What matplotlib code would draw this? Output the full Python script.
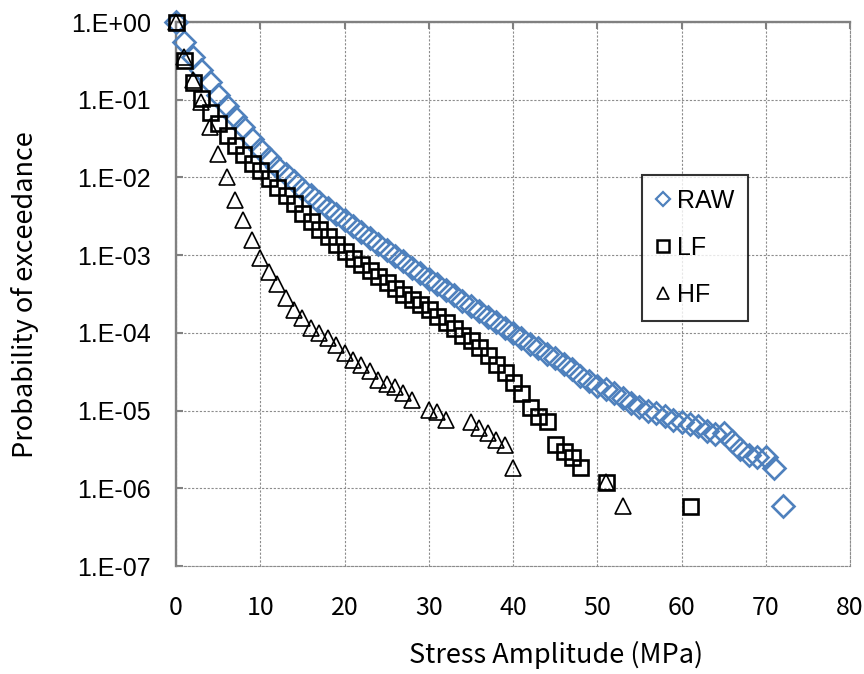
import matplotlib
matplotlib.use("Agg")
import matplotlib.pyplot as plt
from matplotlib.lines import Line2D

# ---------------- data ----------------
raw_x = list(range(0, 73))
raw_p = [1.0, 0.55, 0.355, 0.24, 0.17, 0.115, 0.083, 0.060, 0.044, 0.0316,
         0.0234, 0.0178, 0.0138, 0.011, 0.0089, 0.0072, 0.0059, 0.0049, 0.0041, 0.0034,
         0.0028, 0.0024, 0.0020, 0.00166, 0.00138, 0.00117, 0.00098, 0.00083, 0.00069, 0.00059,
         0.0005, 0.00043, 0.00036, 0.00031, 0.00026, 0.00022, 0.00019, 0.000162, 0.000138, 0.000117,
         0.0001, 8.5e-5, 7.2e-5, 6.3e-5, 5.4e-5, 4.7e-5, 4.0e-5, 3.4e-5, 2.8e-5, 2.4e-5,
         2.1e-5, 1.9e-5, 1.66e-5, 1.45e-5, 1.26e-5, 1.12e-5, 1.0e-5, 9.3e-6, 8.5e-6, 7.6e-6,
         7.1e-6, 6.8e-6, 6.3e-6, 5.5e-6, 5.0e-6, 5.2e-6, 4.0e-6, 3.2e-6, 2.7e-6, 2.5e-6,
         2.5e-6, 1.8e-6, 5.9e-7]

lf_x = list(range(0, 49)) + [51, 61]
lf_p = [1.0, 0.32, 0.17, 0.105, 0.069, 0.050, 0.035, 0.026, 0.020, 0.0155,
        0.0126, 0.0098, 0.0076, 0.0059, 0.0047, 0.0035, 0.00275, 0.0022, 0.00174, 0.00138,
        0.00112, 0.00093, 0.00078, 0.00065, 0.00054, 0.00045, 0.00038, 0.00032, 0.000275, 0.000234,
        0.0002, 0.000166, 0.000138, 0.000115, 9.3e-5, 8.1e-5, 6.6e-5, 5.2e-5, 4.0e-5, 3.1e-5,
        2.3e-5, 1.66e-5, 1.1e-5, 8.5e-6, 7.4e-6, 3.7e-6, 3.0e-6, 2.5e-6, 1.86e-6,
        1.2e-6, 5.9e-7]

hf_x = list(range(0, 29)) + [30, 31, 32, 35, 36, 37, 38, 39, 40, 51, 53]
hf_p = [1.0, 0.355, 0.178, 0.093, 0.045, 0.020, 0.0102, 0.0051, 0.0028, 0.00155,
        0.00091, 0.0006, 0.00042, 0.00028, 0.000195, 0.000155, 0.000117, 0.0001, 8.5e-5, 6.9e-5,
        5.5e-5, 4.5e-5, 3.9e-5, 3.2e-5, 2.45e-5, 2.2e-5, 2.0e-5, 1.7e-5, 1.38e-5,
        1.02e-5, 9.5e-6, 7.6e-6, 7.1e-6, 5.9e-6, 5.1e-6, 4.2e-6, 3.6e-6, 1.8e-6,
        1.2e-6, 5.9e-7]

series_names = ["RAW", "LF", "HF"]
x_ticks = [0, 10, 20, 30, 40, 50, 60, 70, 80]
y_ticks = [1e0, 1e-1, 1e-2, 1e-3, 1e-4, 1e-5, 1e-6, 1e-7]
y_tick_labels = ["1.E+00", "1.E-01", "1.E-02", "1.E-03", "1.E-04", "1.E-05", "1.E-06", "1.E-07"]
x_label = "Stress Amplitude (MPa)"
y_label = "Probability of exceedance"

# ---------------- figure ----------------
W, H, DPI = 864, 674, 100
fig = plt.figure(figsize=(W / DPI, H / DPI), dpi=DPI)
L, R, T, B = 176, 850, 22, 566
ax = fig.add_axes([L / W, 1 - B / H, (R - L) / W, (B - T) / H])

blue = "#4F81BD"
gray = "#808080"
grid_ls = (0, (2.0, 1.5))

ax.set_yscale("log")
ax.set_xlim(0, 80)
ax.set_ylim(1e-7, 1)

ax.grid(True, which="major", color="#8c8c8c", linestyle=grid_ls, linewidth=0.8)
ax.set_axisbelow(True)

ax.plot(raw_x, raw_p, linestyle="none", marker="D", markersize=11.5,
        markerfacecolor="none", markeredgecolor=blue, markeredgewidth=1.9,
        clip_on=False, zorder=3)
ax.plot(lf_x, lf_p, linestyle="none", marker="s", markersize=10.8,
        markerfacecolor="none", markeredgecolor="black", markeredgewidth=1.9,
        clip_on=False, zorder=4)
ax.plot(hf_x, hf_p, linestyle="none", marker="^", markersize=11,
        markerfacecolor="none", markeredgecolor="black", markeredgewidth=1.2,
        clip_on=False, zorder=5)

# spines
for s in ["left", "top"]:
    ax.spines[s].set_color(gray)
    ax.spines[s].set_linewidth(1.7)
for s in ["right", "bottom"]:
    ax.spines[s].set_color("#8c8c8c")
    ax.spines[s].set_linewidth(0.8)
    ax.spines[s].set_linestyle(grid_ls)

ax.set_xticks(x_ticks)
ax.set_xticklabels([str(v) for v in x_ticks])
ax.set_yticks(y_ticks)
ax.set_yticklabels(y_tick_labels)
ax.minorticks_off()

ax.tick_params(axis="x", which="major", bottom=False, top=True, labelbottom=True,
               labeltop=False, direction="in", length=5, width=1.5, color=gray,
               pad=21, labelsize=18, labelcolor="black")
ax.tick_params(axis="y", which="major", left=True, right=False, direction="in",
               length=5, width=1.5, color=gray, pad=18, labelsize=18)
for lab in ax.get_xticklabels():
    lab.set_fontfamily(["Noto Sans CJK JP", "DejaVu Sans"])
for lab in ax.get_yticklabels():
    lab.set_fontfamily(["Liberation Sans", "DejaVu Sans"])

# axis titles
fig.text(556 / W, 1 - 655 / H, x_label, ha="center", va="center", fontsize=19.5,
         family=["Noto Sans CJK JP", "DejaVu Sans"])
fig.text(25 / W, 1 - 295 / H, y_label, ha="center", va="center", rotation=90,
         fontsize=19.5, family=["Noto Sans CJK JP", "DejaVu Sans"])

# legend
handles = [
    Line2D([], [], linestyle="none", marker="D", markersize=7, markerfacecolor="none",
           markeredgecolor=blue, markeredgewidth=1.6),
    Line2D([], [], linestyle="none", marker="s", markersize=9, markerfacecolor="none",
           markeredgecolor="black", markeredgewidth=1.8),
    Line2D([], [], linestyle="none", marker="^", markersize=9, markerfacecolor="none",
           markeredgecolor="black", markeredgewidth=1.2),
]
leg = fig.legend(handles, series_names, loc="upper left",
                 bbox_to_anchor=(642 / W, 1 - 175 / H), frameon=True, fancybox=False,
                 prop={"family": ["Liberation Sans", "DejaVu Sans"], "size": 18},
                 handlelength=0.6, handletextpad=0.25, borderpad=0.55, labelspacing=0.92,
                 borderaxespad=0)
leg.get_frame().set_edgecolor("black")
leg.get_frame().set_linewidth(1.5)

fig.savefig("out.png", dpi=DPI)
